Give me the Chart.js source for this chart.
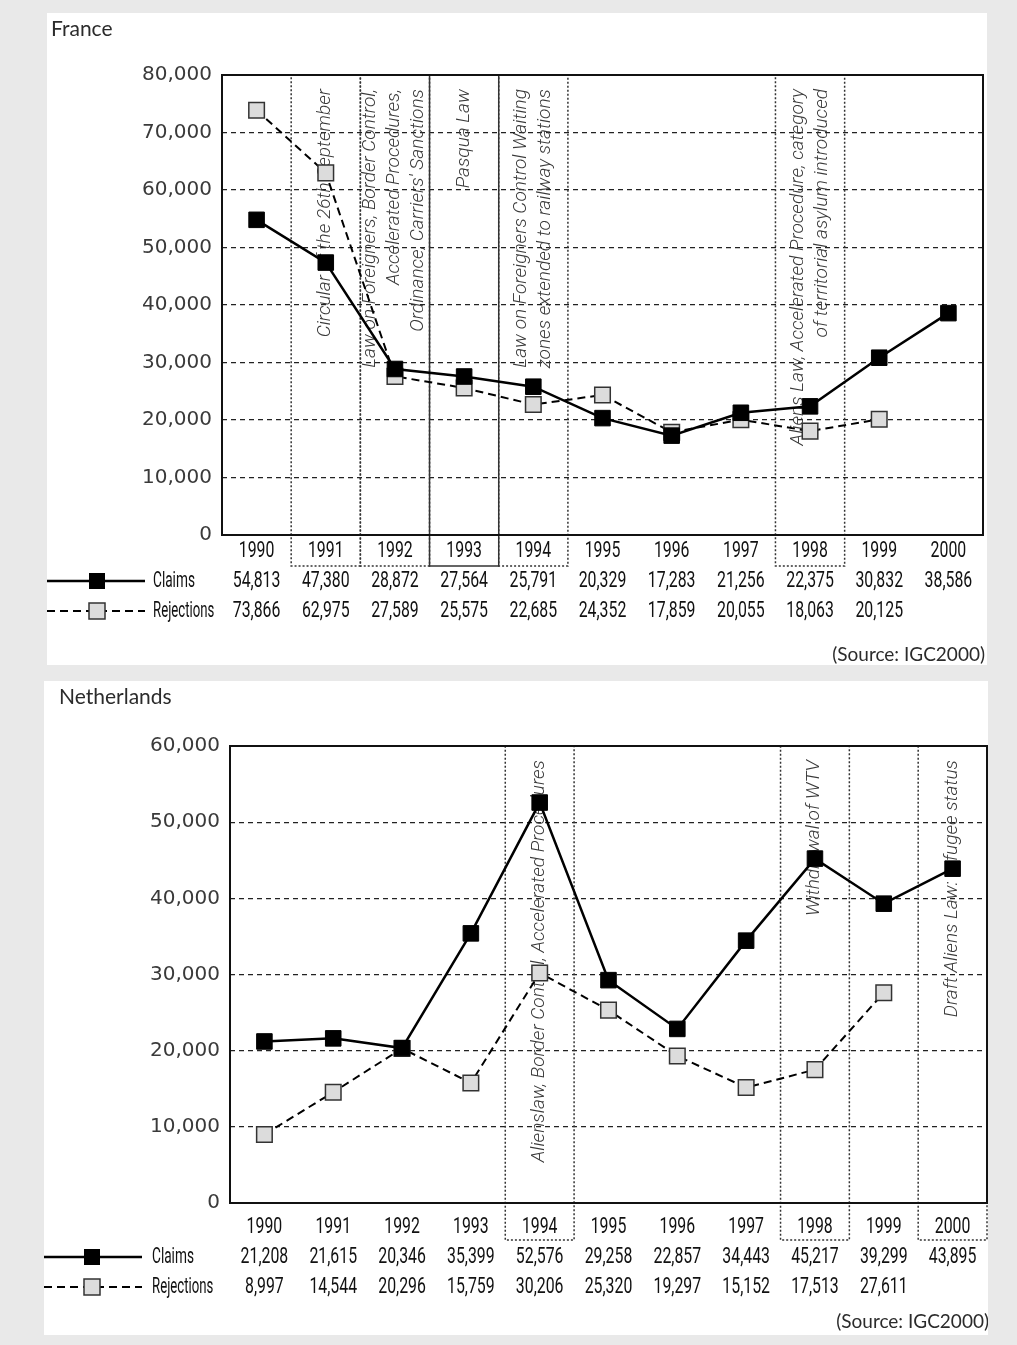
<!DOCTYPE html>
<html>
<head>
<meta charset="utf-8">
<title>Asylum claims and rejections - France and Netherlands</title>
<script src="https://cdn.jsdelivr.net/npm/chart.js@4"></script>
<style>
  body { margin: 0; background: #e9e9e9; width: 1017px; height: 1345px; position: relative; overflow: hidden; }
  .panel { position: absolute; background: #fff; }
</style>
</head>
<body>
<div class="panel" style="left:47px;top:13px;width:940px;height:652px"><canvas id="frChart"></canvas></div>
<div class="panel" style="left:44px;top:681px;width:944px;height:654px"><canvas id="nlChart"></canvas></div>

<script>
// Data (IGC 2000)
const years = ["1990", "1991", "1992", "1993", "1994", "1995", "1996", "1997", "1998", "1999", "2000"];

const franceClaims = [54813, 47380, 28872, 27564, 25791, 20329, 17283, 21256, 22375, 30832, 38586];
const franceRejections = [73866, 62975, 27589, 25575, 22685, 24352, 17859, 20055, 18063, 20125, null];

const netherlandsClaims = [21208, 21615, 20346, 35399, 52576, 29258, 22857, 34443, 45217, 39299, 43895];
const netherlandsRejections = [8997, 14544, 20296, 15759, 30206, 25320, 19297, 15152, 17513, 27611, null];

// Legislative changes marked on each chart
const franceLaws = [
  { year: "1991", lines: ["Circular of the 26th September"] },
  { year: "1992", lines: ["Law on Foreigners, Border Control,", "Accelerated Procedures,", "Ordinance, Carriers' Sanctions"] },
  { year: "1993", lines: ["Pasqua Law"], solid: true },
  { year: "1994", lines: ["Law on Foreigners Control Waiting", "zones extended to railway stations"] },
  { year: "1998", lines: ["Aliens Law, Accelerated Procedure, category", "of territorial asylum introduced"] },
];
const netherlandsLaws = [
  { year: "1994", lines: ["Alienslaw, Border Control, Accelerated Procedures"] },
  { year: "1998", lines: ["Withdrawal of WTV"] },
  { year: "2000", lines: ["Draft Aliens Law: refugee status"] },
];

const TEXT = "#2b2b2b";

function fmt(v) {
  return v.toLocaleString("en-US");
}

// squeezed text, the original table uses a very condensed face
function narrowText(ctx, text, x, y, align, sx) {
  ctx.save();
  ctx.translate(x, y);
  ctx.scale(sx, 1);
  ctx.textAlign = align;
  ctx.fillText(text, 0, 0);
  ctx.restore();
}

/**
 * Draws the law boxes, the data table under the axis, title and source
 */
const lawTablePlugin = {
  id: "lawTable",
  beforeDatasetsDraw(chart, args, o) {
    const { ctx, chartArea: a, scales: { x } } = chart;
    const colW = (a.right - a.left) / years.length;
    o.laws.forEach((law) => {
      const cx = x.getPixelForValue(years.indexOf(law.year));
      ctx.save();
      ctx.strokeStyle = "#333";
      ctx.lineWidth = 1.5;
      ctx.setLineDash(law.solid ? [] : [2, 2]);
      ctx.strokeRect(cx - colW / 2, a.top, colW, o.boxBottom - a.top);
      ctx.setLineDash([]);
      ctx.translate(cx, a.top + 14);
      ctx.rotate(-Math.PI / 2);
      ctx.font = "italic 300 18px Roboto, sans-serif";
      ctx.fillStyle = "#3a3a3a";
      ctx.textBaseline = "middle";
      const n = law.lines.length;
      law.lines.forEach((t, i) => narrowText(ctx, t, 0, (i - (n - 1) / 2) * 24, "right", 1.06));
      ctx.restore();
    });
  },
  afterDraw(chart, args, o) {
    const { ctx, chartArea: a, scales: { x } } = chart;
    ctx.save();

    // plot frame
    ctx.strokeStyle = "#111";
    ctx.lineWidth = 2;
    ctx.strokeRect(a.left, a.top, a.right - a.left, a.bottom - a.top);

    // title
    ctx.fillStyle = TEXT;
    ctx.font = "21px Lato, sans-serif";
    ctx.textAlign = "left";
    ctx.textBaseline = "middle";
    ctx.fillText(o.title, o.titleX, o.titleY);

    // table of values
    ctx.fillStyle = "#111";
    ctx.font = "22px Roboto, sans-serif";
    years.forEach((yr, i) => {
      const cx = x.getPixelForValue(i);
      narrowText(ctx, yr, cx, o.yearY, "center", 0.72);
      narrowText(ctx, fmt(o.claims[i]), cx, o.claimY, "center", 0.72);
      if (o.rejections[i] != null) narrowText(ctx, fmt(o.rejections[i]), cx, o.rejY, "center", 0.72);
    });

    // legend samples
    narrowText(ctx, "Claims", o.legendText, o.claimY, "left", 0.62);
    narrowText(ctx, "Rejections", o.legendText, o.rejY, "left", 0.6);

    ctx.strokeStyle = "#000";
    ctx.lineWidth = 2.5;
    ctx.beginPath();
    ctx.moveTo(0, o.claimY);
    ctx.lineTo(o.legendEnd, o.claimY);
    ctx.stroke();
    ctx.fillStyle = "#000";
    ctx.fillRect(o.legendSq - 8, o.claimY - 8, 16, 16);

    ctx.lineWidth = 2;
    ctx.setLineDash([8, 5]);
    ctx.beginPath();
    ctx.moveTo(0, o.rejY);
    ctx.lineTo(o.legendEnd, o.rejY);
    ctx.stroke();
    ctx.setLineDash([]);
    ctx.fillStyle = "#dcdcdc";
    ctx.fillRect(o.legendSq - 8, o.rejY - 8, 16, 16);
    ctx.lineWidth = 1.5;
    ctx.strokeStyle = "#333";
    ctx.strokeRect(o.legendSq - 8, o.rejY - 8, 16, 16);

    // source
    ctx.fillStyle = TEXT;
    ctx.font = "19px Lato, sans-serif";
    ctx.textAlign = "right";
    ctx.fillText("(Source: IGC2000)", a.right + 2, o.sourceY);
    ctx.restore();
  },
};

function makeChart(id, claims, rejections, laws, L) {
  return new Chart(document.getElementById(id), {
    type: "line",
    data: {
      labels: years,
      datasets: [
        {
          label: "Claims",
          data: claims,
          borderColor: "#000",
          borderWidth: 2.5,
          pointStyle: "rect",
          pointRadius: 11,
          pointBackgroundColor: "#000",
          pointBorderColor: "#000",
          pointBorderWidth: 1,
          tension: 0,
          clip: false,
        },
        {
          label: "Rejections",
          data: rejections,
          borderColor: "#000",
          borderWidth: 2,
          borderDash: [8, 5],
          pointStyle: "rect",
          pointRadius: 11,
          pointBackgroundColor: "#dcdcdc",
          pointBorderColor: "#333",
          pointBorderWidth: 1.5,
          tension: 0,
          clip: false,
        },
      ],
    },
    options: {
      responsive: true,
      maintainAspectRatio: false,
      animation: false,
      layout: { autoPadding: false, padding: { top: L.top, right: L.right, left: 0, bottom: 0 } },
      plugins: {
        legend: { display: false },
        tooltip: { enabled: false },
        lawTable: {
          laws: laws,
          claims: claims,
          rejections: rejections,
          ...L,
        },
      },
      scales: {
        x: {
          type: "category",
          offset: true,
          grid: { display: false },
          border: { display: false },
          ticks: { display: false },
          afterFit: (s) => {
            s.height = L.bottomSpace;
            s.paddingLeft = 0;
            s.paddingRight = 0;
          },
        },
        y: {
          min: 0,
          max: L.yMax,
          grid: { color: "#222", lineWidth: 1.3, drawTicks: false },
          border: { display: false, dash: [5, 4] },
          ticks: {
            stepSize: 10000,
            padding: 10,
            color: "#3a3a3a",
            font: { family: "DejaVu Sans", size: 20 },
            callback: (v) => fmt(v),
          },
          afterFit: (s) => { s.width = L.leftW; },
        },
      },
    },
    plugins: [lawTablePlugin],
  });
}

makeChart("frChart", franceClaims, franceRejections, franceLaws, {
  title: "France", titleX: 4, titleY: 16,
  top: 62, right: 4, leftW: 175, bottomSpace: 130, yMax: 80000,
  boxBottom: 553, yearY: 538, claimY: 568, rejY: 598, sourceY: 642,
  legendEnd: 98, legendSq: 50, legendText: 106,
});

makeChart("nlChart", netherlandsClaims, netherlandsRejections, netherlandsLaws, {
  title: "Netherlands", titleX: 15, titleY: 16,
  top: 65, right: 1, leftW: 186, bottomSpace: 132, yMax: 60000,
  boxBottom: 559, yearY: 546, claimY: 576, rejY: 606, sourceY: 641,
  legendEnd: 98, legendSq: 48, legendText: 108,
});
</script>
</body>
</html>
